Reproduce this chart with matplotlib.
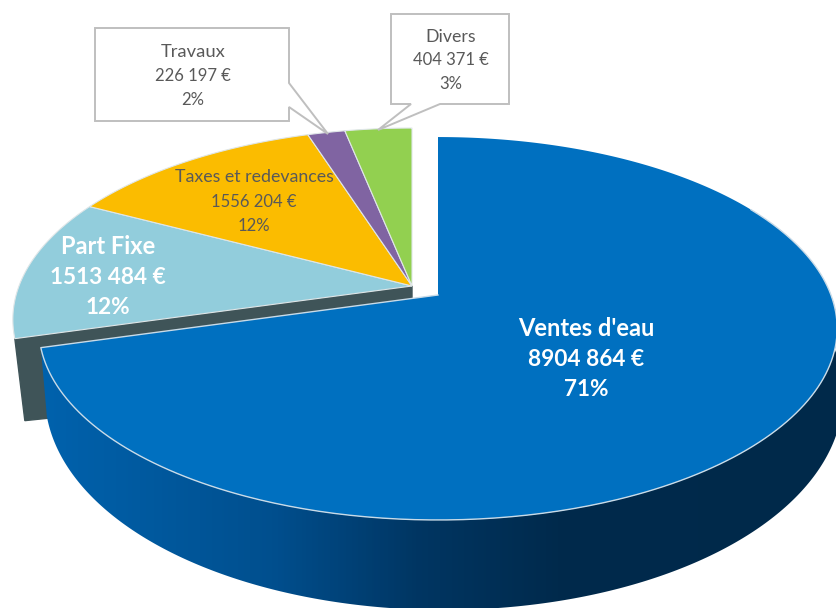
import numpy as np
import matplotlib
matplotlib.use('Agg')
import matplotlib.pyplot as plt
from matplotlib.colors import LinearSegmentedColormap
from matplotlib.patches import Polygon

plt.rcParams['font.family'] = ['Lato', 'DejaVu Sans']

# data, clockwise from the top
categories = ['Ventes d\'eau', 'Part Fixe', 'Taxes et redevances', 'Travaux', 'Divers']
values = [8904864, 1513484, 1556204, 226197, 404371]
value_labels = ['8904 864 €', '1513 484 €', '1556 204 €', '226 197 €', '404 371 €']
percent_labels = ['71%', '12%', '12%', '2%', '3%']
colors = ['#0070c0', '#92cddc', '#fbbc00', '#8064a2', '#92d050']


def project(theta, cx, cy):
    # circle seen in perspective: centre is above the middle of the ellipse
    u = np.sin(theta)
    v = np.cos(theta)
    w = 1 + 0.175 * v
    return cx + 393 * u / w, cy - 185.6 * v / w


def lower_ring(theta, cx, cy):
    x, y = project(theta, cx, cy)
    return x + 6, y + 60.7 - 29.3 * np.cos(theta)


def arc(t1, t2):
    return np.linspace(t1, t2, 300)


fig = plt.figure(figsize=(8.36, 6.08), dpi=100)
ax = fig.add_axes([0, 0, 1, 1])

edges = np.concatenate([[0], np.cumsum(values)]) / np.sum(values) * 2 * np.pi

# the four slices pulled back from the main one
rest = (412, 286)
for i in range(1, 5):
    x, y = project(arc(edges[i], edges[i + 1]), *rest)
    ax.fill(np.r_[rest[0], x], np.r_[rest[1], y], color=colors[i], ec='#dfe6e8', lw=0.8, zorder=2)

# cut face of the back part
ex, ey = project(edges[1], *rest)
ax.fill([rest[0], ex, ex + 10, 60, rest[0]], [rest[1], ey, ey + 82, 417, rest[1] + 12],
        color='#3f5458', zorder=1)

# main slice: gradient side
main = (438, 295)
t = arc(np.radians(60), edges[1])
tx, ty = project(t, *main)
bx, by = lower_ring(t, *main)
side = Polygon(np.c_[np.r_[tx, bx[::-1]], np.r_[ty, by[::-1]]], closed=True, transform=ax.transData,
               fc='none', ec='none')
ax.add_patch(side)
cmap = LinearSegmentedColormap.from_list('side', [(0, '#0062ad'), (0.29, '#004f8e'), (0.47, '#003663'),
                                                  (0.65, '#002a4c'), (1, '#00294a')])
im = ax.imshow(np.linspace(0, 1, 400).reshape(1, -1), cmap=cmap, extent=[40, 840, 620, 300],
               aspect='auto', zorder=3)
im.set_clip_path(side)

# main slice: top, the light edge only shows along the front
x, y = project(arc(edges[0], edges[1]), *main)
ax.fill(np.r_[main[0], x], np.r_[main[1], y], color=colors[0], ec='none', zorder=4)
ax.plot(np.r_[tx, main[0]], np.r_[ty, main[1]], color='#c9dbe8', lw=1.0, zorder=4)

# callouts
travaux_box = [(95, 28), (289, 28), (289, 83), (328, 134), (289, 107), (289, 121), (95, 121)]
divers_box = [(391, 14), (509, 14), (509, 104), (440, 104), (378, 130), (411, 104), (391, 104)]
for pts in [travaux_box, divers_box]:
    ax.add_patch(Polygon(pts, closed=True, fc='white', ec='#bfbfbf', lw=1.4, zorder=5))

# labels: one text per line, the reference has wide set category names
white = dict(color='white', fontweight='bold', ha='center', va='center', zorder=6)
grey = dict(color='#595959', ha='center', va='center', zorder=6)
label_x = [586, 108, 254, 193, 451]
label_y = [(328, 360, 389), (246, 278, 307), (177, 202, 226), (52, 76, 100), (37, 60, 84)]
name_size = [17, 17, 12.8, 13.2, 12.8]
for i in range(5):
    lines = [categories[i], value_labels[i], percent_labels[i]]
    for j in range(3):
        if i < 2:
            size = name_size[i] if j == 0 else 16.3
            ax.text(label_x[i], label_y[i][j], lines[j], fontsize=size, **white)
        else:
            size = name_size[i] if j == 0 else 12
            ax.text(label_x[i], label_y[i][j], lines[j], fontsize=size, **grey)

ax.set_xlim(0, 836)
ax.set_ylim(608, 0)
ax.axis('off')

fig.savefig('out.png', dpi=100)
